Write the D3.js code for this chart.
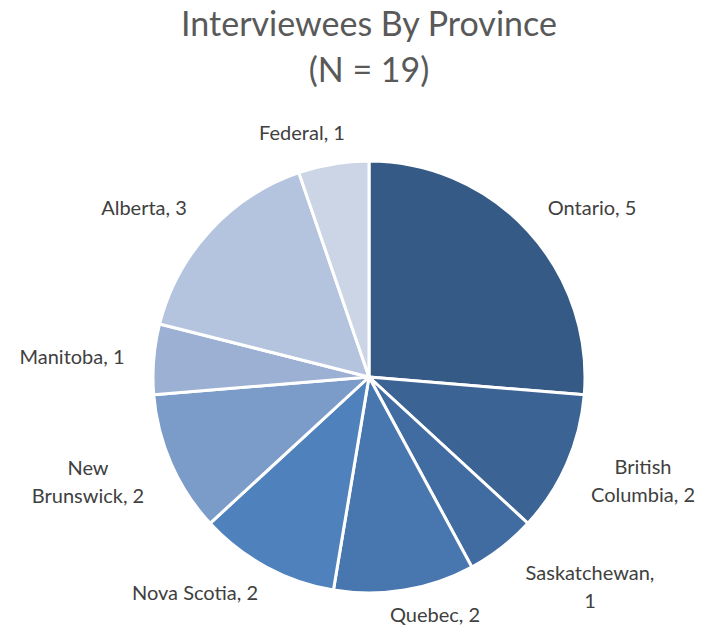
<!DOCTYPE html>
<html><head><meta charset="utf-8">
<script src="https://cdn.jsdelivr.net/npm/d3@7"></script>
<style>body{margin:0;background:#fff;} text{font-family:Lato,"Open Sans",sans-serif;}</style>
</head><body>
<svg id="c" width="703" height="630"></svg>
<script>
const provinces = ["Ontario","British Columbia","Saskatchewan","Quebec","Nova Scotia","New Brunswick","Manitoba","Alberta","Federal"];
const counts = [5,2,1,2,2,2,1,3,1];
const colors = ["#355a85","#3b6495","#416ca1","#4877b0","#4f81bd","#7b9bc8","#9bb0d3","#b4c3de","#ccd5e6"];
const labelLines = [["Ontario, 5"],["British","Columbia, 2"],["Saskatchewan,","1"],["Quebec, 2"],["Nova Scotia, 2"],["New","Brunswick, 2"],["Manitoba, 1"],["Alberta, 3"],["Federal, 1"]];
// label layout (centre x, first baseline y)
const labelPos = [[592,215],[643,474],[590,580],[435,622],[195,600],[88,475],[72,364],[144,215],[302,140]];

const svg = d3.select("#c");
const cx = 369, cy = 377, R = 216;
svg.append("text").attr("x",cx).attr("y",36).attr("text-anchor","middle")
  .attr("font-size",34).attr("fill","#595959").text("Interviewees By Province");
svg.append("text").attr("x",cx).attr("y",82).attr("text-anchor","middle")
  .attr("font-size",34).attr("fill","#595959").text("(N = 19)");

const pie = d3.pie().sort(null).value(d=>d)(counts);
const arc = d3.arc().innerRadius(0).outerRadius(R);
const g = svg.append("g").attr("transform",`translate(${cx},${cy})`);
g.selectAll("path").data(pie).join("path")
  .attr("d",arc).attr("fill",(d,i)=>colors[i])
  .attr("stroke","#fff").attr("stroke-width",3).attr("stroke-linejoin","round");

const lg = svg.append("g");
provinces.forEach((p,i)=>{
  const t = lg.append("text").attr("text-anchor","middle").attr("font-size",20).attr("fill","#404040");
  labelLines[i].forEach((l,j)=>{
    t.append("tspan").attr("x",labelPos[i][0]).attr("y",labelPos[i][1]+j*28).text(l);
  });
});
</script>
</body></html>
